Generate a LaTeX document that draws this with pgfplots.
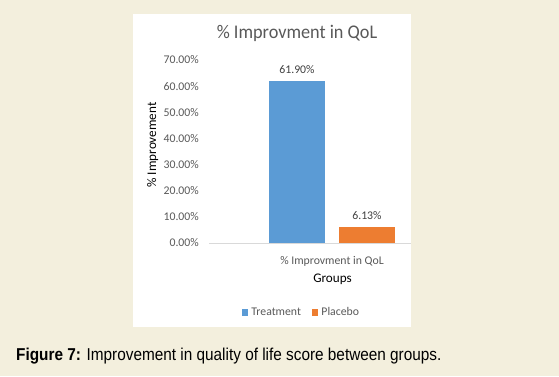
\documentclass[border=0pt]{standalone}
\usepackage{pgfplots}
\pgfplotsset{compat=1.18}
\usepackage{fontspec}
\setmainfont{Carlito}
\newfontfamily\capfont{Liberation Sans}
\definecolor{bgc}{HTML}{F3EFDD}
\definecolor{barblue}{HTML}{5B9BD5}
\definecolor{barorange}{HTML}{ED7D31}
\definecolor{txtgray}{HTML}{595959}
\definecolor{axgray}{HTML}{D9D9D9}
\definecolor{lblgray}{HTML}{404040}
\begin{document}
\begin{tikzpicture}[x=1bp,y=1bp]
\fill[bgc] (0,0) rectangle (559,376);
\fill[white] (133,49) rectangle (411,362);
\begin{axis}[
  at={(209bp,133bp)}, anchor=south west,
  scale only axis, width=202bp, height=183bp,
  xmin=-1.257, xmax=1.629, ymin=0, ymax=70,
  axis y line=none, axis x line*=bottom,
  x axis line style={axgray, line width=0.8bp, -},
  xtick={0.5}, xticklabels={\% Improvment in QoL},
  xtick style={draw=none},
  xticklabel style={anchor=base, inner sep=0pt, yshift=-17.5bp, font=\fontsize{11.8}{13}\selectfont, text=txtgray},
  /pgf/number format/assume math mode=true,
  ybar, bar width=56bp, bar shift=0pt,
  nodes near coords={\pgfmathprintnumber[fixed,fixed zerofill,precision=2,assume math mode=true]{\pgfplotspointmeta}\%},
  nodes near coords style={anchor=base, inner sep=0pt, yshift=7.5bp, font=\fontsize{11.8}{13}\selectfont, text=lblgray},
  legend columns=2,
  legend style={at={(0.453,-0.380)}, anchor=center, draw=none, fill=none,
    font=\fontsize{11.8}{13}\selectfont, text=txtgray, inner sep=0pt,
    nodes={inner sep=0pt},
    /tikz/every odd column/.append style={column sep=3bp},
    /tikz/every even column/.append style={column sep=11bp}},
  legend image code/.code={\fill[#1] (0bp,-3.5bp) rectangle (6.5bp,3.5bp);},
]
\addplot[fill=barblue, draw=none] coordinates {(0,61.90)};
\addlegendentry{Treatment}
\addplot[fill=barorange, draw=none] coordinates {(1,6.13)};
\addlegendentry{Placebo}
\end{axis}
\begin{axis}[
  at={(209bp,133bp)}, anchor=south west,
  scale only axis, width=202bp, height=183bp,
  xmin=-1.257, xmax=1.629, ymin=0, ymax=70,
  axis line style={draw=none}, xtick=\empty,
  ytick={0,10,...,70},
  yticklabels={0.00\%,10.00\%,20.00\%,30.00\%,40.00\%,50.00\%,60.00\%,70.00\%},
  ytick style={draw=none},
  yticklabel style={anchor=east, inner sep=0pt, xshift=-10bp, font=\fontsize{11.8}{13}\selectfont, text=txtgray},
]
\end{axis}
\node[anchor=base, font=\fontsize{18.3}{20}\selectfont, text=txtgray, yscale=1.06] at (297,338) {\% Improvment in QoL};
\node[anchor=base, font=\fontsize{13.2}{15}\selectfont, text=black] at (332.5,94) {Groups};
\node[anchor=base, rotate=90, font=\fontsize{13.2}{15}\selectfont, text=black] at (156,231) {\% Improvement};
\node[anchor=base west, inner sep=0pt, font=\capfont\fontsize{15.4}{17}\selectfont, text=black, yscale=1.12] at (16,15.5) {\textbf{Figure 7:} Improvement in quality of life score between groups.};
\end{tikzpicture}
\end{document}
